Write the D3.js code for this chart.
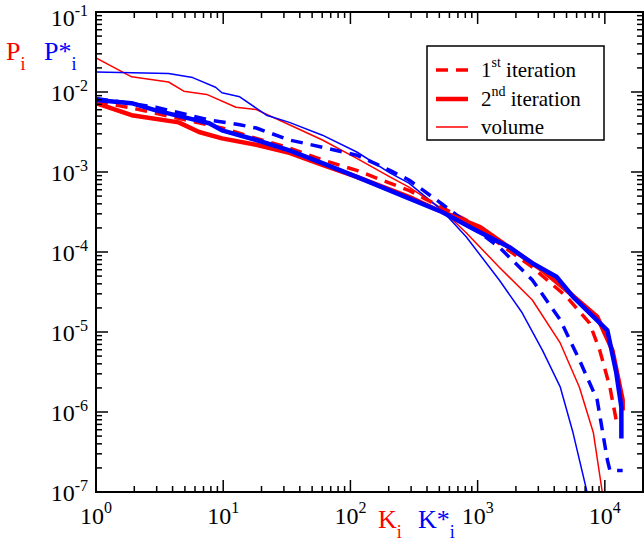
<!DOCTYPE html><html><head><meta charset="utf-8">
<script src="https://cdn.jsdelivr.net/npm/d3@7"></script>
<style>body{margin:0;background:#fff}</style>
</head><body><svg id="c" width="644" height="548"></svg>
<script>
// data as [log10 K, log10 P]
const redVolume=[[0,-1.575],[0.28,-1.81],[0.57,-1.875],[0.69,-1.99],[0.87,-2.03],[1.10,-2.19],[1.26,-2.22],[1.52,-2.41],[1.78,-2.6],[2.05,-2.83],[2.31,-3.06],[2.46,-3.19],[2.70,-3.44],[2.91,-3.76],[3.17,-4.19],[3.43,-4.6],[3.65,-5.14],[3.80,-5.69],[3.91,-6.26],[3.98,-7]];
const blueVolume=[[0,-1.75],[0.57,-1.77],[0.76,-1.82],[0.94,-1.94],[0.99,-2.01],[1.13,-2.06],[1.34,-2.29],[1.52,-2.38],[1.78,-2.54],[2.05,-2.75],[2.31,-3.01],[2.46,-3.14],[2.72,-3.48],[2.91,-3.81],[3.17,-4.35],[3.35,-4.76],[3.51,-5.23],[3.65,-5.69],[3.75,-6.26],[3.86,-7]];
const red2nd=[[0,-2.14],[0.28,-2.29],[0.65,-2.38],[0.81,-2.5],[0.99,-2.58],[1.26,-2.66],[1.52,-2.76],[1.78,-2.91],[2.05,-3.06],[2.46,-3.31],[2.65,-3.45],[3.02,-3.69],[3.31,-4.01],[3.51,-4.23],[3.70,-4.48],[3.94,-4.81],[4.06,-5.23],[4.14,-5.85],[4.14,-5.98]];
const blue2nd=[[0,-2.1],[0.28,-2.14],[0.47,-2.23],[0.73,-2.33],[0.89,-2.39],[0.99,-2.48],[1.26,-2.6],[1.52,-2.73],[1.78,-2.89],[2.05,-3.06],[2.46,-3.33],[2.72,-3.5],[2.99,-3.73],[3.25,-3.94],[3.43,-4.14],[3.62,-4.31],[3.75,-4.56],[4.02,-4.98],[4.09,-5.51],[4.13,-5.94],[4.13,-6.33]];
const red1st=[[0,-2.12],[0.28,-2.2],[0.65,-2.33],[0.99,-2.45],[1.26,-2.58],[1.52,-2.7],[1.78,-2.85],[2.05,-2.98],[2.31,-3.14],[2.46,-3.23],[2.91,-3.6],[3.43,-4.19],[3.70,-4.56],[3.88,-4.89],[3.96,-5.23],[4.04,-5.69],[4.10,-6.19]];
const blue1st=[[0,-2.08],[0.47,-2.19],[0.89,-2.35],[1.13,-2.41],[1.26,-2.45],[1.52,-2.6],[1.78,-2.69],[2.05,-2.79],[2.31,-2.98],[2.46,-3.1],[2.72,-3.4],[3.17,-3.94],[3.43,-4.35],[3.65,-4.85],[3.80,-5.35],[3.94,-5.85],[4.02,-6.6],[4.04,-6.73],[4.14,-6.73]];
const xExps=[0,1,2,3,4], yExps=[-1,-2,-3,-4,-5,-6,-7];

const FONT="'Liberation Serif', 'Times New Roman', 'DejaVu Serif', serif";
const svg=d3.select("#c");
const L=96,R=643,T=12,B=492;
const x=d3.scaleLog().domain([1,Math.pow(10,4.3)]).range([L,R]);
const y=d3.scaleLog().domain([1e-7,1e-1]).range([B,T]);
const line2=d3.line().x(d=>x(Math.pow(10,d[0]))).y(d=>y(Math.pow(10,d[1])));
const g=svg.append("g");
g.append("defs").append("clipPath").attr("id","cp").append("rect").attr("x",L).attr("y",T).attr("width",R-L).attr("height",B-T);
const series=[[redVolume,"#ff0000",1.5,null],[blueVolume,"#0000ff",1.5,null],[red1st,"#ff0000",3.5,"12,8"],[blue1st,"#0000ff",3.5,"12,8"],[red2nd,"#ff0000",4.5,null],[blue2nd,"#0000ff",4.5,null]];
series.forEach(([d,c,w,da])=>g.append("path").attr("d",line2(d)).attr("fill","none").attr("stroke",c).attr("stroke-width",w).attr("stroke-dasharray",da).attr("stroke-linejoin","round").attr("clip-path","url(#cp)"));
g.append("rect").attr("x",L).attr("y",T).attr("width",R-L).attr("height",B-T).attr("fill","none").attr("stroke","#000").attr("stroke-width",2);
const xt=[];for(let e=0;e<=4;e++)for(let m=1;m<10;m++){const v=m*Math.pow(10,e);if(v<=x.domain()[1])xt.push([v,m===1]);}
xt.forEach(([v,maj])=>{const len=maj?12:6,px=x(v);
 g.append("line").attr("x1",px).attr("x2",px).attr("y1",B).attr("y2",B-len).attr("stroke","#000").attr("stroke-width",1.5);
 g.append("line").attr("x1",px).attr("x2",px).attr("y1",T).attr("y2",T+len).attr("stroke","#000").attr("stroke-width",1.5);});
const yt=[];for(let e=-7;e<-1;e++)for(let m=1;m<10;m++)yt.push([m*Math.pow(10,e),m===1]);yt.push([0.1,true]);
yt.forEach(([v,maj])=>{const len=maj?12:6,py=y(v);
 g.append("line").attr("x1",L).attr("x2",L+len).attr("y1",py).attr("y2",py).attr("stroke","#000").attr("stroke-width",1.5);
 g.append("line").attr("x1",R).attr("x2",R-len).attr("y1",py).attr("y2",py).attr("stroke","#000").attr("stroke-width",1.5);});
function txt(){return g.append("text").style("font-family",FONT);}
xExps.forEach(e=>{const t=txt().attr("x",x(Math.pow(10,e))).attr("y",B+32).attr("text-anchor","middle").attr("font-size",24);
 t.append("tspan").text("10");t.append("tspan").attr("dy",-11).attr("font-size",16).text(e);});
yExps.forEach(e=>{const t=txt().attr("x",L-8).attr("y",Math.max(y(Math.pow(10,e))+9,26)).attr("text-anchor","end").attr("font-size",24);
 t.append("tspan").text("10");t.append("tspan").attr("dy",-10).attr("font-size",16).text(e);});
function lab(xp,yp,c,main){const t=txt().attr("x",xp).attr("y",yp).attr("fill",c).attr("font-size",26);
 t.append("tspan").text(main);t.append("tspan").attr("dy",10).attr("font-size",18).text("i");}
lab(6,60,"#ff0000","P");lab(44,60,"#0000ff","P*");
lab(378,528,"#ff0000","K");lab(418,528,"#0000ff","K*");
g.append("rect").attr("x",427).attr("y",46).attr("width",177).attr("height",94).attr("fill","#fff").attr("stroke","#000").attr("stroke-width",1.5);
const leg=[["1","st","3.5","12,8",70],["2","nd","4.5",null,99],["","", "1.5",null,127]];
leg.forEach(([n,s,w,da,yy],i)=>{g.append("line").attr("x1",436).attr("x2",468).attr("y1",yy).attr("y2",yy).attr("stroke","#ff0000").attr("stroke-width",w).attr("stroke-dasharray",da);
 const t=txt().attr("x",481).attr("y",yy+7).attr("font-size",21);
 if(i<2){t.append("tspan").text(n);t.append("tspan").attr("dy",-10).attr("font-size",14).text(s);t.append("tspan").attr("dy",10).text(" iteration");}
 else t.text("volume");});
</script></body></html>
